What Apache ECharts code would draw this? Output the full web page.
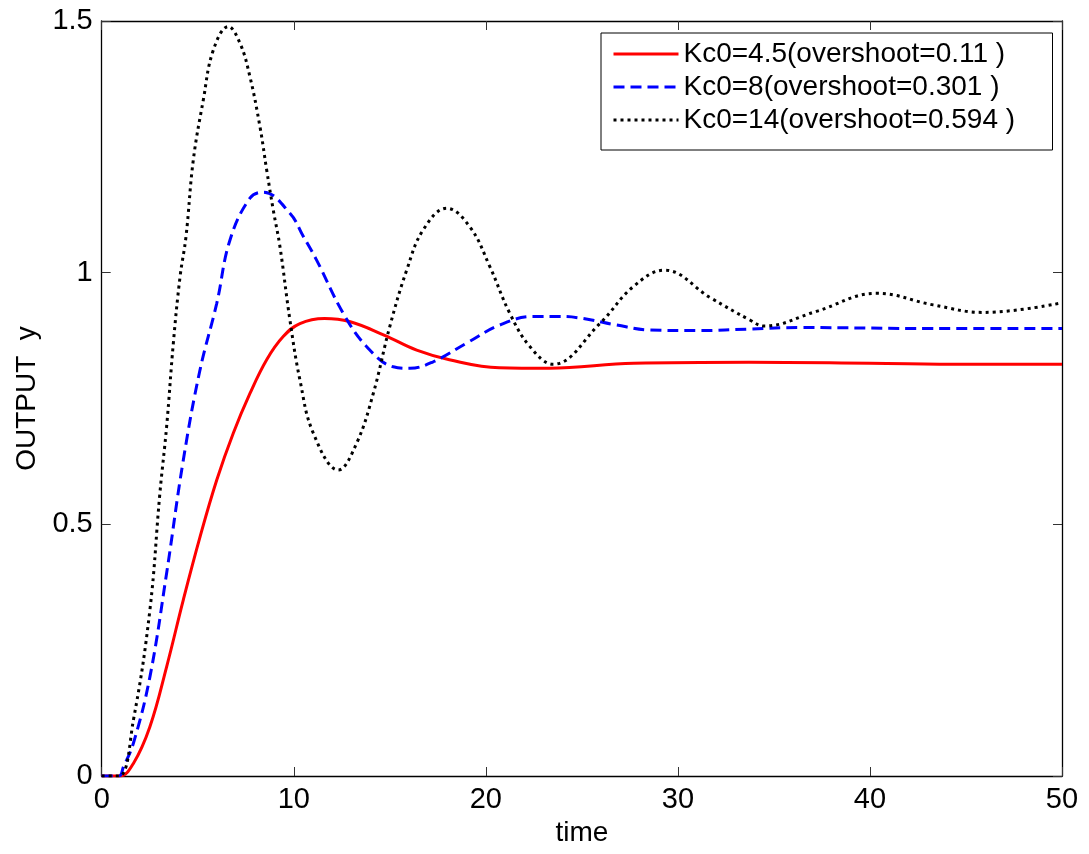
<!DOCTYPE html>
<html>
<head>
<meta charset="utf-8">
<script src="https://cdn.jsdelivr.net/npm/echarts@6/dist/echarts.min.js"></script>
<style>
html,body{margin:0;padding:0;background:#fff;}
#chart{width:1089px;height:854px;}
</style>
</head>
<body>
<div id="chart"></div>
<script>
var xTicks = [0, 10, 20, 30, 40, 50];
var yTicks = [0, 0.5, 1, 1.5];
var seriesNames = ['Kc0=4.5(overshoot=0.11 )', 'Kc0=8(overshoot=0.301 )', 'Kc0=14(overshoot=0.594 )'];

var tRed = [0, 0.95, 1.65, 2.51, 3.38, 4.25, 5.12, 5.99, 6.85, 7.72, 8.59, 9.45, 10.32, 11.6, 12.9, 14.7, 16.4, 18.1, 20.7, 23.3, 27.7, 33.7, 40, 45, 50];
var yRed = [0, 0, 0.025, 0.098, 0.217, 0.35, 0.475, 0.588, 0.681, 0.76, 0.827, 0.873, 0.899, 0.909, 0.903, 0.876, 0.846, 0.827, 0.811, 0.81, 0.82, 0.822, 0.82, 0.818, 0.818];

var tBlue = [0, 0.9, 1.13, 1.65, 2.51, 3.38, 4.25, 5.12, 5.99, 6.68, 7.72, 8.41, 9.8, 10.5, 11.19, 12.58, 13.8, 15.18, 16.05, 17.26, 19.0, 20.73, 22.47, 23.8, 25.07, 26.81, 28.54, 31.14, 33.75, 36.35, 43.3, 50];
var yBlue = [0, 0, 0.018, 0.065, 0.197, 0.403, 0.628, 0.807, 0.939, 1.065, 1.148, 1.16, 1.118, 1.072, 1.025, 0.919, 0.853, 0.813, 0.81, 0.823, 0.86, 0.896, 0.913, 0.913, 0.909, 0.896, 0.886, 0.885, 0.888, 0.891, 0.889, 0.889];

var tBlack = [0, 0.9, 1.65, 2.51, 3.03, 3.38, 3.73, 4.08, 4.39, 4.77, 5.29, 5.81, 6.59, 7.2, 7.72, 8.24, 8.59, 8.93, 9.28, 9.8, 10.32, 11.02, 12.32, 13.27, 14.14, 15.0, 15.88, 16.74, 17.96, 19.17, 20.21, 21.25, 22.3, 23.5, 25.94, 27.67, 29.3, 31.7, 33.75, 34.5, 37.2, 40.34, 43.29, 45.9, 50];
var yBlack = [0, 0, 0.111, 0.33, 0.562, 0.694, 0.86, 0.992, 1.072, 1.224, 1.343, 1.442, 1.489, 1.456, 1.389, 1.29, 1.204, 1.125, 1.052, 0.906, 0.787, 0.681, 0.608, 0.661, 0.76, 0.893, 1.005, 1.085, 1.128, 1.091, 1.012, 0.919, 0.853, 0.818, 0.899, 0.972, 1.005, 0.95, 0.906, 0.894, 0.923, 0.959, 0.936, 0.921, 0.94];

function pairs(t, y) { return t.map(function (v, i) { return [v, y[i]]; }); }

var FONT = '"Liberation Sans", Arial, sans-serif';
var axisLine = { show: true, onZero: false, lineStyle: { color: '#000', width: 1.3 } };
var tick = { show: true, inside: true, length: 9, lineStyle: { color: '#333', width: 1 } };

var chart = echarts.init(document.getElementById('chart'), null, { renderer: 'canvas' });
chart.setOption({
  backgroundColor: '#fff',
  animation: false,
  grid: { left: 101.7, right: 27, top: 21, bottom: 78, containLabel: false },
  legend: {
    orient: 'vertical',
    left: 601, top: 33,
    padding: [7, 9, 16, 11],
    itemWidth: 65, itemHeight: 14, itemGap: 5,
    borderColor: '#000', borderWidth: 1, backgroundColor: '#fff',
    textStyle: { fontFamily: FONT, fontSize: 28, color: '#000', lineHeight: 28, width: 360 },
    itemStyle: { opacity: 0 },
    lineStyle: { width: 3 },
    data: seriesNames
  },
  xAxis: [{
    type: 'value', min: 0, max: 50, interval: 10, position: 'bottom',
    name: 'time', nameLocation: 'middle', nameGap: 38,
    nameTextStyle: { fontFamily: FONT, fontSize: 28, color: '#000' },
    axisLine: axisLine, axisTick: tick, splitLine: { show: false },
    axisLabel: { fontFamily: FONT, fontSize: 29, color: '#000', margin: 9,
      formatter: function (v) { return xTicks.indexOf(v) >= 0 ? String(v) : ''; } }
  }, {
    type: 'value', min: 0, max: 50, interval: 10, position: 'top',
    axisLine: axisLine, axisTick: tick, splitLine: { show: false }, axisLabel: { show: false }
  }],
  yAxis: [{
    type: 'value', min: 0, max: 1.5, interval: 0.5, position: 'left',
    name: 'OUTPUT  y', nameLocation: 'middle', nameGap: 56, nameRotate: 90,
    nameTextStyle: { fontFamily: FONT, fontSize: 28, color: '#000' },
    axisLine: axisLine, axisTick: tick, splitLine: { show: false },
    axisLabel: { fontFamily: FONT, fontSize: 29, color: '#000', margin: 9,
      formatter: function (v) { return yTicks.indexOf(v) >= 0 ? String(v) : ''; } }
  }, {
    type: 'value', min: 0, max: 1.5, interval: 0.5, position: 'right',
    axisLine: axisLine, axisTick: tick, splitLine: { show: false }, axisLabel: { show: false }
  }],
  series: [{
    name: seriesNames[0], type: 'line', data: pairs(tRed, yRed), showSymbol: false, symbol: 'none',
    smooth: 0.4,
    lineStyle: { color: '#ff0000', width: 3, type: 'solid' }, itemStyle: { color: '#ff0000' }, z: 3
  }, {
    name: seriesNames[1], type: 'line', data: pairs(tBlue, yBlue), showSymbol: false, symbol: 'none',
    smooth: 0.4,
    lineStyle: { color: '#0000ff', width: 3, type: [11, 6] }, itemStyle: { color: '#0000ff' }, z: 4
  }, {
    name: seriesNames[2], type: 'line', data: pairs(tBlack, yBlack), showSymbol: false, symbol: 'none',
    smooth: 0.4,
    lineStyle: { color: '#000000', width: 3, type: [3, 4] }, itemStyle: { color: '#000000' }, z: 5
  }]
});
</script>
</body>
</html>
